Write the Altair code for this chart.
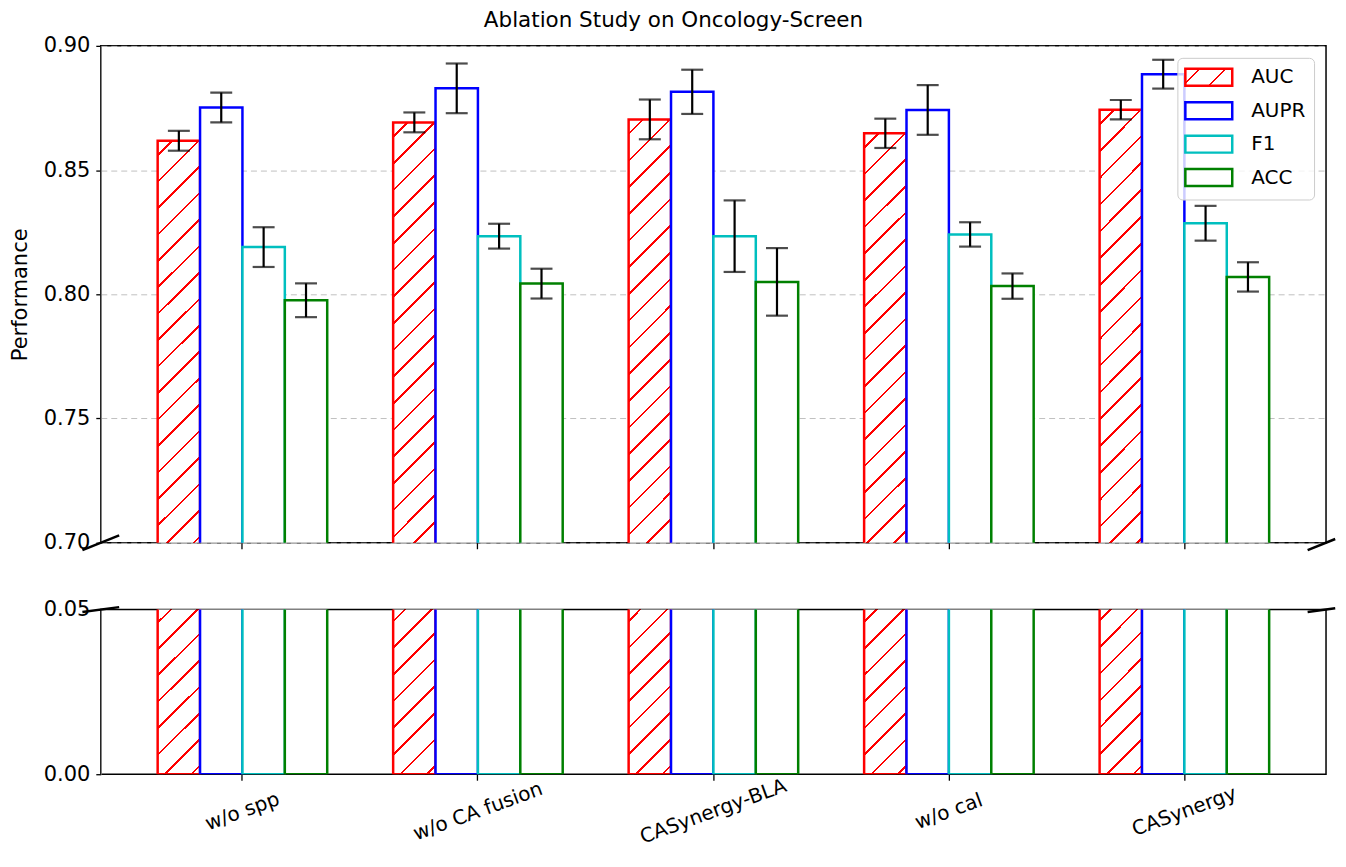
import altair as alt
import pandas as pd

# ---------------- data ----------------
models = ["w/o spp", "w/o CA fusion", "CASynergy-BLA", "w/o cal", "CASynergy"]
metrics = ["AUC", "AUPR", "F1", "ACC"]

auc = [0.8618, 0.8692, 0.8704, 0.8648, 0.8743]
auc_err = [0.0040, 0.0040, 0.0080, 0.0059, 0.0039]
aupr = [0.8752, 0.8829, 0.8815, 0.8742, 0.8886]
aupr_err = [0.0060, 0.0100, 0.0089, 0.0100, 0.0058]
f1 = [0.8190, 0.8234, 0.8234, 0.8241, 0.8286]
f1_err = [0.0080, 0.0050, 0.0144, 0.0049, 0.0070]
acc = [0.7976, 0.8043, 0.8050, 0.8033, 0.8070]
acc_err = [0.0068, 0.0060, 0.0136, 0.0051, 0.0059]

top_ticks = [0.70, 0.75, 0.80, 0.85, 0.90]
bottom_ticks = [0.00, 0.05]

metric_colors = ["#ff0000", "#0000ff", "#00bfbf", "#008000"]

series = {"AUC": (auc, auc_err), "AUPR": (aupr, aupr_err),
          "F1": (f1, f1_err), "ACC": (acc, acc_err)}
rows = []
for i, m in enumerate(models):
    for met in metrics:
        vals, errs = series[met]
        rows.append({"model": m, "metric": met, "value": vals[i], "err": errs[i]})
df = pd.DataFrame(rows)

# ---------------- layout / style ----------------
W = 1228
H_TOP = 498
H_BOT = 165
FONT = "DejaVu Sans"
BAR_W = W / (len(models) - 0.28 + 2 * 0.2415) * (1 - 0.28) / 4
RED = metric_colors[0]


def hatch_stops(bar_w, bar_h, period=26.7, thick=2.6, color=RED, bg="white"):
    span = bar_w + bar_h
    k = span / (bar_w ** 2 + bar_h ** 2)
    stops = [(0, bg)]
    i = 0
    while True:
        s = (i * period + period / 2) / span
        e = s + thick / span
        if e >= 1:
            break
        stops += [(s, bg), (s, color), (e, color), (e, bg)]
        i += 1
    stops.append((1, bg))
    return bar_w * k, bar_h * k, stops


def hatch(bar_w, bar_h, **kw):
    x2, y2, stops = hatch_stops(bar_w, bar_h, **kw)
    return alt.LinearGradient(gradient="linear", x1=0, y1=0, x2=x2, y2=y2,
                              stops=[alt.GradientStop(offset=o, color=c) for o, c in stops])


def hatch_expr(bar_w, bar_h, **kw):
    x2, y2, stops = hatch_stops(bar_w, bar_h, **kw)
    st = ", ".join("{offset: %.5f, color: '%s'}" % (o, c) for o, c in stops)
    return "{gradient: 'linear', x1: 0, y1: 0, x2: %.5f, y2: %.5f, stops: [%s]}" % (x2, y2, st)


grad_top = hatch(BAR_W, 0.868 * H_TOP / 0.20)
grad_bot = hatch(BAR_W, 0.868 * H_BOT / 0.05)
legend_fill = [alt.ExprRef(expr=hatch_expr(47, 17, period=26, thick=2.6)), "white", "white", "white"]

stroke_scale = alt.Scale(domain=metrics, range=metric_colors)
fill_scale = alt.Scale(domain=metrics, range=legend_fill)
xscale = alt.Scale(paddingInner=0.28, paddingOuter=0.2415)
xoff = alt.XOffset("metric:N", sort=metrics, scale=alt.Scale(paddingInner=0, paddingOuter=0))

base = alt.Chart(df)


def xenc(axis):
    return alt.X("model:N", sort=models, scale=xscale, axis=axis, title=None)


def breaks(h, dy):
    d = pd.DataFrame({"k": [0]})
    dx = 0.015 * W
    left = alt.Chart(d).mark_rule(color="black", strokeWidth=2.5, clip=False).encode(
        x=alt.value(-dx), x2=alt.value(dx),
        y=alt.value(h + dy), y2=alt.value(h - dy))
    right = alt.Chart(d).mark_rule(color="black", strokeWidth=2.5, clip=False).encode(
        x=alt.value(W - dx), x2=alt.value(W + 0.5 * dx),
        y=alt.value(h + dy), y2=alt.value(h - 0.5 * dy))
    return left, right


# ---------------- top panel ----------------
ytop = alt.Scale(domain=[0.70, 0.90], nice=False, zero=False)
top_axis_x = alt.Axis(labels=False, ticks=True, tickSize=6, domain=False, grid=False)
top_axis_y = alt.Axis(values=top_ticks, format=".2f", grid=True, gridDash=[6, 4],
                      gridColor="#c0c0c0", gridWidth=1, title="Performance",
                      titleFontSize=21, titleFontWeight="normal", titlePadding=13)

legend = alt.Legend(title=None, orient="top-right", offset=12, fillColor="rgba(255,255,255,0.8)",
                    strokeColor="#cccccc", cornerRadius=5, padding=8,
                    labelFontSize=20, labelFont=FONT, labelColor="black",
                    symbolType="M-2.35,-0.85H2.35V0.85H-2.35Z", symbolSize=400,
                    symbolStrokeWidth=2.5,
                    symbolOffset=12, labelOffset=31, rowPadding=6.5)

top_auc = base.transform_filter("datum.metric == 'AUC'").mark_bar(
    fill=grad_top, stroke=RED, strokeWidth=2.5, clip=True).encode(
    x=xenc(top_axis_x), xOffset=xoff,
    y=alt.Y("value:Q", scale=ytop, axis=top_axis_y, title="Performance"),
    y2=alt.datum(0))

top_other = base.transform_filter("datum.metric != 'AUC'").mark_bar(
    strokeWidth=2.5, clip=True).encode(
    x=xenc(top_axis_x), xOffset=xoff,
    y=alt.Y("value:Q", scale=ytop, axis=top_axis_y, title="Performance"),
    y2=alt.datum(0),
    stroke=alt.Stroke("metric:N", scale=stroke_scale, legend=legend),
    fill=alt.Fill("metric:N", scale=fill_scale, legend=legend))

err = base.transform_calculate(lo="datum.value - datum.err", hi="datum.value + datum.err")
top_err = err.mark_rule(color="black", strokeWidth=2.2).encode(
    x=xenc(top_axis_x), xOffset=xoff,
    y=alt.Y("lo:Q", scale=ytop, axis=top_axis_y, title="Performance"), y2="hi:Q")
top_cap_lo = err.mark_tick(color="black", thickness=2.2, size=22).encode(
    x=xenc(top_axis_x), xOffset=xoff,
    y=alt.Y("lo:Q", scale=ytop, axis=top_axis_y, title="Performance"))
top_cap_hi = err.mark_tick(color="black", thickness=2.2, size=22).encode(
    x=xenc(top_axis_x), xOffset=xoff,
    y=alt.Y("hi:Q", scale=ytop, axis=top_axis_y, title="Performance"))

tl, tr = breaks(H_TOP, 0.015 * H_TOP)

top = alt.layer(top_auc, top_other, top_err, top_cap_lo, top_cap_hi, tl, tr).properties(
    width=W, height=H_TOP,
    title=alt.Title("Ablation Study on Oncology-Screen", fontSize=21.5, font=FONT,
                    fontWeight="normal", anchor="middle", offset=3, dx=-40, color="black"))

# ---------------- bottom panel ----------------
ybot = alt.Scale(domain=[0.0, 0.05], nice=False, zero=False)
bot_axis_x = alt.Axis(labelAngle=340, labelAlign="center", labelBaseline="middle",
                      labelPadding=31, tickSize=6, domain=False, grid=False, labelFontSize=20)
bot_axis_y = alt.Axis(values=bottom_ticks, format=".2f", grid=False, title=None)

bot_auc = base.transform_filter("datum.metric == 'AUC'").mark_bar(
    fill=grad_bot, stroke=RED, strokeWidth=2.5, clip=True).encode(
    x=xenc(bot_axis_x), xOffset=xoff,
    y=alt.Y("value:Q", scale=ybot, axis=bot_axis_y),
    y2=alt.datum(0))
bot_other = base.transform_filter("datum.metric != 'AUC'").mark_bar(
    fill="white", strokeWidth=2.5, clip=True).encode(
    x=xenc(bot_axis_x), xOffset=xoff,
    y=alt.Y("value:Q", scale=ybot, axis=bot_axis_y),
    y2=alt.datum(0),
    stroke=alt.Stroke("metric:N", scale=stroke_scale, legend=None))

bl, br = breaks(0, 0.015 * H_BOT)

bottom = alt.layer(bot_auc, bot_other, bl, br).properties(width=W, height=H_BOT)

chart = alt.vconcat(top, bottom, spacing=67, bounds="flush").resolve_scale(
    stroke="independent", fill="independent").properties(
    padding={"left": 0, "top": 0, "right": 0, "bottom": 0}).configure(
    font=FONT).configure_view(
    stroke="black", strokeWidth=1.5).configure_axis(
    labelFont=FONT, labelFontSize=21, labelColor="black", tickColor="black",
    tickWidth=1.3, titleFont=FONT, titleColor="black", labelPadding=6)

chart.save("out.html", embed_options={"renderer": "svg", "actions": False})
